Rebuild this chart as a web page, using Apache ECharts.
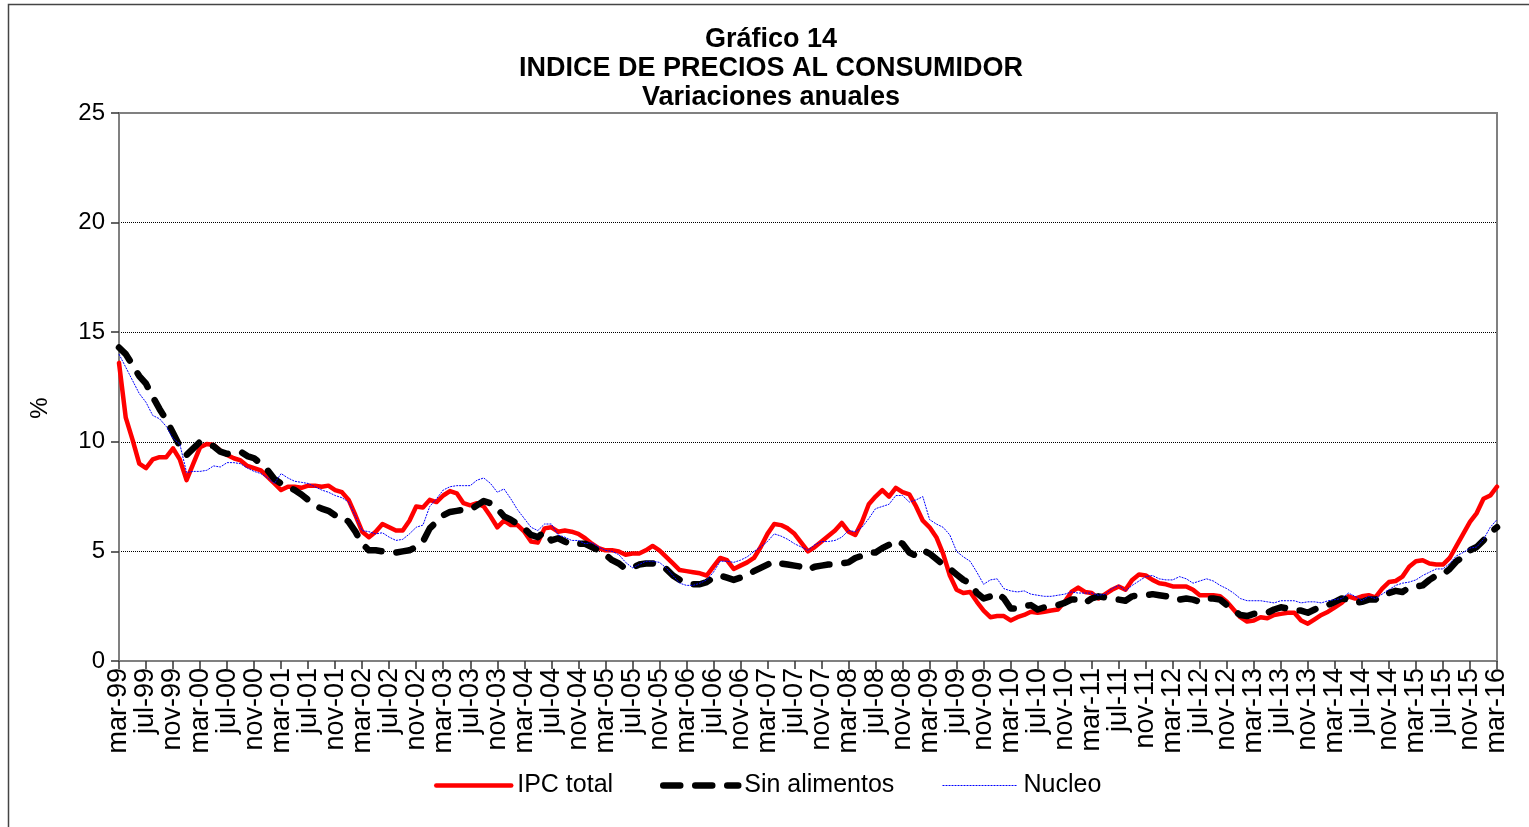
<!DOCTYPE html>
<html>
<head>
<meta charset="utf-8">
<script src="https://cdn.jsdelivr.net/npm/echarts@6/dist/echarts.min.js"></script>
<style>
html,body{margin:0;padding:0;background:#fff;}
#chart{width:1529px;height:827px;}
</style>
</head>
<body>
<div id="chart"></div>
<script>
// ---- Data (annual % change), monthly from mar-99 to mar-16 ----
const monthNames = ['ene','feb','mar','abr','may','jun','jul','ago','sep','oct','nov','dic'];
const startYear = 1999, startMonth = 2, nMonths = 205;

const ipcTotal = [
  13.6, 11.1, 10.1, 9.0, 8.8, 9.2, 9.3, 9.3, 9.7, 9.2,
  8.25, 9.0, 9.75, 9.9, 9.85, 9.6, 9.4, 9.25, 9.15, 8.9,
  8.8, 8.7, 8.4, 8.1, 7.8, 7.95, 7.95, 7.9, 8.0, 8.0,
  7.95, 8.0, 7.8, 7.7, 7.35, 6.65, 5.9, 5.65, 5.9, 6.25,
  6.1, 5.95, 5.95, 6.4, 7.05, 7.0, 7.35, 7.25, 7.55, 7.75,
  7.65, 7.2, 7.1, 7.2, 7.05, 6.6, 6.1, 6.4, 6.2, 6.2,
  5.9, 5.45, 5.4, 6.05, 6.1, 5.9, 5.95, 5.9, 5.8, 5.6,
  5.35, 5.15, 5.05, 5.05, 5.0, 4.85, 4.9, 4.9, 5.05, 5.25,
  5.05, 4.75, 4.45, 4.15, 4.1, 4.05, 4.0, 3.9, 4.3, 4.7,
  4.6, 4.2, 4.35, 4.5, 4.7, 5.2, 5.8, 6.25, 6.2, 6.05,
  5.8, 5.4, 5.0, 5.2, 5.45, 5.7, 5.95, 6.3, 5.9, 5.75,
  6.35, 7.15, 7.5, 7.8, 7.5, 7.9, 7.7, 7.6, 7.05, 6.4,
  6.1, 5.65, 4.9, 3.9, 3.25, 3.1, 3.15, 2.7, 2.3, 2.0,
  2.05, 2.05, 1.85, 2.0, 2.1, 2.25, 2.2, 2.25, 2.3, 2.35,
  2.7, 3.15, 3.35, 3.15, 3.1, 2.85, 3.05, 3.25, 3.4, 3.25,
  3.7, 3.95, 3.9, 3.7, 3.55, 3.5, 3.4, 3.4, 3.4, 3.25,
  3.0, 3.0, 3.0, 2.95, 2.7, 2.35, 2.0, 1.8, 1.85, 2.0,
  1.95, 2.1, 2.15, 2.2, 2.2, 1.85, 1.7, 1.9, 2.1, 2.25,
  2.45, 2.65, 2.95, 2.85, 2.95, 3.0, 2.9, 3.3, 3.6, 3.65,
  3.85, 4.3, 4.55, 4.6, 4.45, 4.4, 4.4, 4.7, 5.25, 5.8,
  6.35, 6.75, 7.4, 7.55, 7.95
];

const sinAlimentos = [
  14.3, 14.0, 13.5, 13.0, 12.65, 12.05, 11.5, 11.0, 10.4, 9.8,
  9.4, 9.7, 10.0, 9.9, 9.8, 9.55, 9.45, 9.5, 9.55, 9.35,
  9.25, 9.0, 8.7, 8.3, 8.1, 7.95, 7.8, 7.6, 7.35, 7.1,
  6.95, 6.85, 6.65, 6.6, 6.35, 5.9, 5.35, 5.05, 5.05, 5.0,
  5.0, 4.95, 5.0, 5.05, 5.2, 5.45, 6.05, 6.35, 6.65, 6.8,
  6.85, 6.9, 6.9, 7.1, 7.3, 7.2, 6.95, 6.6, 6.45, 6.25,
  6.05, 5.75, 5.65, 5.9, 5.5, 5.6, 5.45, 5.3, 5.35, 5.35,
  5.2, 5.05, 4.85, 4.6, 4.45, 4.2, 4.25, 4.4, 4.45, 4.45,
  4.4, 4.2, 3.9, 3.7, 3.55, 3.5, 3.5, 3.6, 3.8, 3.9,
  3.8, 3.7, 3.8, 3.9, 4.1, 4.25, 4.4, 4.55, 4.45, 4.4,
  4.35, 4.3, 4.15, 4.3, 4.35, 4.4, 4.4, 4.45, 4.5, 4.7,
  4.8, 4.95, 4.95, 5.15, 5.3, 5.5, 5.35, 4.95, 4.8, 5.05,
  4.9, 4.65, 4.4, 4.2, 3.95, 3.7, 3.55, 3.1, 2.85, 2.95,
  3.1, 2.85, 2.4, 2.4, 2.5, 2.55, 2.35, 2.45, 2.5, 2.55,
  2.65, 2.8, 2.8, 2.65, 2.85, 2.95, 2.9, 2.85, 2.8, 2.75,
  2.95, 3.0, 3.0, 3.05, 3.0, 2.95, 2.95, 2.8, 2.85, 2.8,
  2.7, 2.85, 2.85, 2.8, 2.55, 2.3, 2.1, 2.05, 2.15, 2.2,
  2.2, 2.35, 2.45, 2.4, 2.3, 2.3, 2.2, 2.35, 2.5, 2.55,
  2.7, 2.85, 2.8, 2.65, 2.7, 2.8, 2.8, 3.0, 3.1, 3.2,
  3.15, 3.35, 3.4, 3.45, 3.7, 3.9, 3.95, 4.2, 4.55, 4.75,
  5.05, 5.2, 5.5, 5.85, 6.1
];

const nucleo = [
  14.0, 13.4, 12.8, 12.2, 11.8, 11.2, 11.05, 10.7, 10.15, 9.9,
  8.6, 8.65, 8.65, 8.7, 8.9, 8.85, 9.05, 9.05, 9.0, 8.8,
  8.65, 8.55, 8.35, 8.1, 8.55, 8.35, 8.2, 8.15, 8.1, 7.95,
  7.8, 7.7, 7.55, 7.45, 7.25, 6.6, 5.95, 5.9, 5.8, 5.85,
  5.65, 5.5, 5.55, 5.8, 6.1, 6.2, 7.05, 7.4, 7.8, 7.95,
  8.0, 8.0, 8.0, 8.25, 8.35, 8.1, 7.7, 7.85, 7.4, 6.9,
  6.5, 6.1, 5.95, 6.25, 6.25, 5.75, 5.65, 5.5, 5.5, 5.35,
  5.4, 5.2, 5.05, 5.0, 4.85, 4.5, 4.25, 4.4, 4.55, 4.55,
  4.5, 4.25, 3.9, 3.55, 3.45, 3.45, 3.55, 3.7, 4.05, 4.55,
  4.55, 4.5, 4.6, 4.75, 5.0, 5.2, 5.45, 5.8, 5.7, 5.55,
  5.35, 5.2, 5.05, 5.3, 5.45, 5.45, 5.5, 5.65, 5.95, 5.9,
  6.1, 6.5, 6.95, 7.05, 7.15, 7.55, 7.55, 7.25, 7.35, 7.5,
  6.45, 6.25, 6.1, 5.75, 5.0, 4.75, 4.55, 4.05, 3.5, 3.7,
  3.75, 3.3, 3.2, 3.15, 3.2, 3.05, 3.0, 2.95, 2.95, 3.0,
  3.05, 3.15, 3.1, 3.1, 3.1, 3.0, 3.05, 3.3, 3.45, 3.2,
  3.45, 3.65, 3.85, 3.9, 3.75, 3.7, 3.7, 3.85, 3.75, 3.55,
  3.65, 3.75, 3.65, 3.45, 3.3, 3.1, 2.85, 2.75, 2.75, 2.75,
  2.7, 2.65, 2.75, 2.75, 2.75, 2.65, 2.7, 2.7, 2.65, 2.75,
  2.8, 2.85, 3.1, 2.95, 2.75, 2.95, 2.85, 3.05, 3.25, 3.45,
  3.55, 3.6, 3.7, 3.9, 4.05, 4.2, 4.2, 4.45, 4.8, 4.95,
  5.15, 5.2, 5.55, 6.1, 6.45
];

const yTicks = [0, 5, 10, 15, 20, 25];

// category labels like "mar-99"
const categories = [];
for (let i = 0; i < nMonths; i++) {
  const t = startMonth + i;
  const y = startYear + Math.floor(t / 12);
  categories.push(monthNames[t % 12] + '-' + String(y % 100).padStart(2, '0'));
}

const FONT = 'Liberation Sans, Arial, sans-serif';
const chart = echarts.init(document.getElementById('chart'), null, {renderer: 'canvas'});

function legendAt(name, left) {
  return {
    data: [name], left: left, top: 773, padding: 0, itemWidth: 75, itemHeight: 14, itemGap: 0,
    lineStyle: {width: 'inherit'},
    itemStyle: {opacity: 0},
    textStyle: {fontFamily: FONT, fontSize: 25, color: '#000', padding: [0, 0, 0, 1]},
    selectedMode: false
  };
}

chart.setOption({
  animation: false,
  backgroundColor: '#fff',
  title: {
    text: 'Gráfico 14\nINDICE DE PRECIOS AL CONSUMIDOR\nVariaciones anuales',
    left: 766, textAlign: 'center', top: 20,
    textStyle: {fontFamily: FONT, fontSize: 27, fontWeight: 'bold', color: '#000', lineHeight: 29}
  },
  legend: [
    legendAt('IPC total', 434),
    legendAt('Sin alimentos', 660),
    legendAt('Nucleo', 942)
  ],
  grid: {left: 119, right: 32, top: 113, bottom: 166, show: true, borderColor: '#808080', borderWidth: 2, containLabel: false},
  graphic: [{
    type: 'rect', shape: {x: 8.5, y: 4.5, width: 1540, height: 840}, silent: true,
    style: {fill: 'none', stroke: '#444', lineWidth: 1.5}
  }, {
    type: 'text', x: 40, y: 408, rotation: Math.PI / 2, silent: true,
    style: {text: '%', fontFamily: FONT, fontSize: 24, fill: '#000', align: 'center', verticalAlign: 'middle'}
  }],
  xAxis: {
    type: 'category', data: categories, boundaryGap: false,
    axisLine: {lineStyle: {color: '#808080', width: 2}},
    axisTick: {show: true, interval: 3, length: 8, lineStyle: {color: '#333', width: 1.5}},
    axisLabel: {interval: 3, rotate: 90, margin: 7, fontFamily: FONT, fontSize: 27, color: '#000'},
    splitLine: {show: false}
  },
  yAxis: {
    type: 'value', min: yTicks[0], max: yTicks[yTicks.length - 1], interval: 5,
    axisLine: {show: true, lineStyle: {color: '#808080', width: 2}},
    axisTick: {show: true, length: 8, lineStyle: {color: '#333', width: 1.5}},
    axisLabel: {margin: 14, fontFamily: FONT, fontSize: 24, color: '#000'},
    splitLine: {show: true, showMinLine: false, showMaxLine: false, lineStyle: {color: '#000', width: 1, type: [1, 1]}}
  },
  series: [
    {
      name: 'IPC total', type: 'line', data: ipcTotal, symbol: 'none', z: 2,
      lineStyle: {color: '#FF0000', width: 4.5, cap: 'round', join: 'round'},
      itemStyle: {color: '#FF0000'}
    },
    {
      name: 'Sin alimentos', type: 'line', data: sinAlimentos, symbol: 'none', z: 3,
      lineStyle: {color: '#000000', width: 6.5, type: [17, 15], cap: 'round', join: 'round'},
      itemStyle: {color: '#000000'}
    },
    {
      name: 'Nucleo', type: 'line', data: nucleo, symbol: 'none', z: 4,
      lineStyle: {color: '#0000FF', width: 1, type: [2, 1]},
      itemStyle: {color: '#0000FF'}
    }
  ]
});
</script>
</body>
</html>
